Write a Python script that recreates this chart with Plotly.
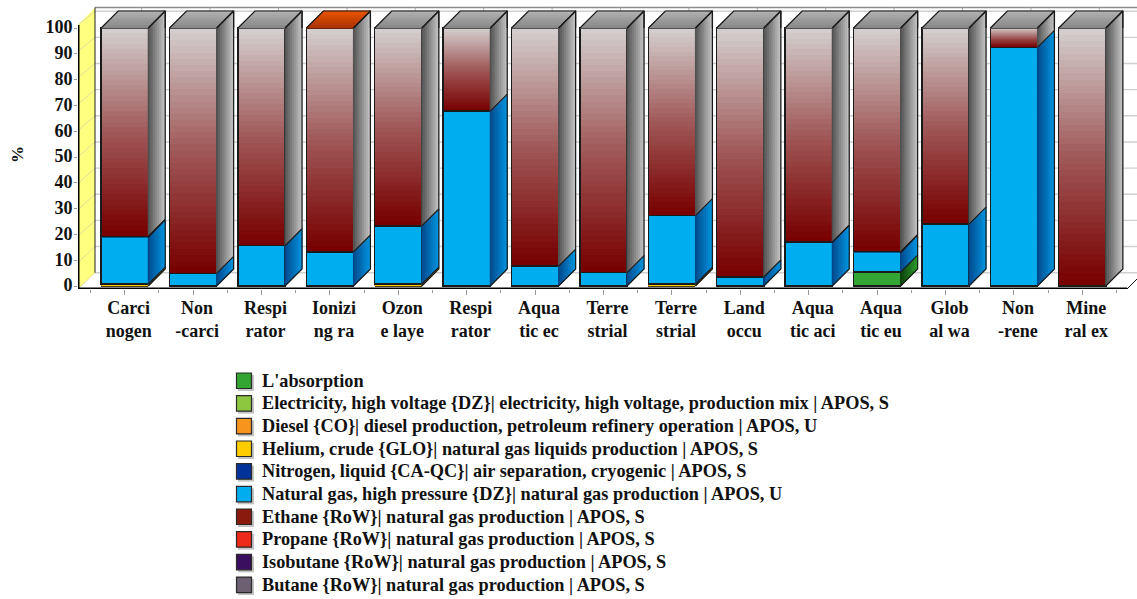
import plotly.graph_objects as go

# ---------- data ----------
categories = ["Carci<br>nogen", "Non<br>-carci", "Respi<br>rator", "Ionizi<br>ng ra", "Ozon<br>e laye",
              "Respi<br>rator", "Aqua<br>tic ec", "Terre<br>strial", "Terre<br>strial", "Land<br>occu",
              "Aqua<br>tic aci", "Aqua<br>tic eu", "Glob<br>al wa", "Non<br>-rene", "Mine<br>ral ex"]
y_ticks = [0, 10, 20, 30, 40, 50, 60, 70, 80, 90, 100]
series_names = ["L'absorption",
                "Electricity, high voltage {DZ}| electricity, high voltage, production mix | APOS, S",
                "Diesel {CO}| diesel production, petroleum refinery operation | APOS, U",
                "Helium, crude {GLO}| natural gas liquids production | APOS, S",
                "Nitrogen, liquid {CA-QC}| air separation, cryogenic | APOS, S",
                "Natural gas, high pressure {DZ}| natural gas production | APOS, U",
                "Ethane {RoW}| natural gas production | APOS, S",
                "Propane {RoW}| natural gas production | APOS, S",
                "Isobutane {RoW}| natural gas production | APOS, S",
                "Butane {RoW}| natural gas production | APOS, S"]
absorption  = [0, 0, 0, 0, 0, 0, 0, 0, 0, 0, 0, 5.4, 0, 0, 0]
electricity = [0] * 15
diesel      = [0] * 15
helium      = [0.7, 0, 0, 0, 0.7, 0, 0, 0, 0.7, 0, 0, 0, 0, 0, 0]
nitrogen    = [0.3, 0, 0, 0, 0, 0, 0, 0, 0, 0, 0.2, 0.4, 0, 0, 0]
natural_gas = [18.2, 4.9, 15.6, 13.2, 22.6, 67.8, 7.7, 5.2, 26.6, 3.5, 16.8, 7.5, 24.0, 92.5, 0]
ethane      = [80.78, 95.08, 84.38, 86.78, 76.68, 32.18, 92.28, 94.78, 72.68, 96.48, 82.98, 86.68, 75.98, 7.48, 99.98]
propane     = [0, 0, 0, 0.02, 0, 0, 0, 0, 0, 0, 0, 0, 0, 0, 0]
isobutane   = [0] * 15
butane      = [0.02, 0.02, 0.02, 0, 0.02, 0.02, 0.02, 0.02, 0.02, 0.02, 0.02, 0.02, 0.02, 0.02, 0.02]
series_values = [absorption, electricity, diesel, helium, nitrogen, natural_gas, ethane, propane, isobutane, butane]
series_colors = ["#33A532", "#8DC63F", "#F7941E", "#FFCC00", "#003399", "#00AEEF", "#8B1A0E", "#EE2A1A", "#3B0F5F", "#6D6070"]
stack_order = [0, 1, 2, 3, 5, 4, 6, 7, 8, 9]   # bottom to top in the picture

# ---------- styling ----------
FONT = "Liberation Serif"
INK = "#111111"
BAR_W = 0.688
DX = 17 / 68.4      # depth of the 3D effect in category units
DY = 17 / 2.58      # depth of the 3D effect in % units
X0, X1 = (78 - 124.7) / 68.4, (1137 - 124.7) / 68.4
Y0, Y1 = (286 - 289) / 2.58, (286 - 5) / 2.58
PLOT_W, PLOT_H = 1137 - 78, 289 - 5
xs = list(range(len(categories)))
side_ramps = [("#0B3F0B", "#2A9A2A"), ("#3A6010", "#8DC63F"), ("#7A4508", "#F7941E"), ("#7A6000", "#FFCC00"),
              ("#001A50", "#003399"), ("#00478A", "#0093DF"), ("#4E4E4E", "#C4C4C4"), ("#4E4E4E", "#C4C4C4"),
              ("#4E4E4E", "#C4C4C4"), ("#4E4E4E", "#C4C4C4")]
top_ramps = {9: ("#858585", "#B2B2B2"), 7: ("#A83200", "#E85400")}
GRADIENT = [[0, "#780000"], [0.5, "#A05858"], [1, "#D3CDCD"]]
bar_lines = {3: ("#806000", 0.5), 4: ("#005A90", 1.0)}


def mix(a, b, t):
    ca = [int(a[i:i + 2], 16) for i in (1, 3, 5)]
    cb = [int(b[i:i + 2], 16) for i in (1, 3, 5)]
    return "rgb(%d,%d,%d)" % tuple(round(p + (q - p) * t) for p, q in zip(ca, cb))


fig = go.Figure()

# gradient fill of the Ethane segments (heatmaps sit under the bar outlines)
cum = [0.0] * len(xs)
for vals in series_values[:6]:
    cum = [c + v for c, v in zip(cum, vals)]
eth_base = list(cum)
N = 40
for i in xs:
    lo, hi = eth_base[i], eth_base[i] + ethane[i]
    fig.add_trace(go.Heatmap(
        x=[i - BAR_W / 2, i + BAR_W / 2],
        y=[lo + (hi - lo) * k / N for k in range(N + 1)],
        z=[[k / (N - 1)] for k in range(N)],
        colorscale=GRADIENT, zmin=0, zmax=1, showscale=False, hoverinfo="skip"))

# stacked front faces
for idx in stack_order:
    lc, lw = bar_lines.get(idx, ("#1A1A1A", 1.4))
    fig.add_trace(go.Bar(
        x=xs, y=series_values[idx], name=series_names[idx], width=BAR_W, showlegend=False,
        marker=dict(color="rgba(0,0,0,0)" if idx == 6 else series_colors[idx],
                    line=dict(color=lc, width=lw))))

# side faces, as vertical colour strips
STRIPS = 9
outline_x, outline_y = [], []
base = [0.0] * len(xs)
side_polys = {}
for idx in stack_order:
    vals = series_values[idx]
    for i in xs:
        if vals[i] <= 0:
            continue
        y0, y1 = base[i], base[i] + vals[i]
        xr = i + BAR_W / 2
        for k in range(STRIPS):
            f0, f1 = k / STRIPS, (k + 1) / STRIPS
            xa, xb = xr + DX * f0, xr + DX * f1
            ya, yb = DY * f0, DY * f1
            px, py = side_polys.setdefault((idx, k), ([], []))
            px += [xa, xb, xb, xa, xa, None]
            py += [y0 + ya, y0 + yb, y1 + yb, y1 + ya, y0 + ya, None]
        outline_x += [xr, xr + DX, xr + DX, None]
        outline_y += [y0, y0 + DY, y1 + DY, None]
    base = [b + v for b, v in zip(base, vals)]
for (idx, k), (px, py) in side_polys.items():
    col = mix(*side_ramps[idx], (k + 0.5) / STRIPS)
    fig.add_trace(go.Scatter(x=px, y=py, mode="lines", fill="toself", fillcolor=col,
                             line=dict(width=1, color=col), hoverinfo="skip", showlegend=False))

# top faces, coloured after the uppermost series of each stack
top_polys = {}
for i in xs:
    top_series = max(s for s, vals in enumerate(series_values) if vals[i] > 0)
    xl, xr = i - BAR_W / 2, i + BAR_W / 2
    for k in range(STRIPS):
        f0, f1 = k / STRIPS, (k + 1) / STRIPS
        px, py = top_polys.setdefault((top_series, k), ([], []))
        px += [xl + DX * f0, xr + DX * f0, xr + DX * f1, xl + DX * f1, xl + DX * f0, None]
        py += [100 + DY * f0, 100 + DY * f0, 100 + DY * f1, 100 + DY * f1, 100 + DY * f0, None]
    outline_x += [xl, xl + DX, xr + DX, xr + DX, None, xr, xr + DX, None]
    outline_y += [100, 100 + DY, 100 + DY, 100, None, 100, 100 + DY, None]
for (s, k), (px, py) in top_polys.items():
    col = mix(*top_ramps[s], (k + 0.5) / STRIPS)
    fig.add_trace(go.Scatter(x=px, y=py, mode="lines", fill="toself", fillcolor=col,
                             line=dict(width=1, color=col), hoverinfo="skip", showlegend=False))
fig.add_trace(go.Scatter(x=outline_x, y=outline_y, mode="lines", line=dict(color="#1A1A1A", width=1.2),
                         hoverinfo="skip", showlegend=False))

# walls, floor and grid
wall_left = X0
wall_back = X0 + 17 / 68.4
shapes = []
back_y = lambda v: (286 - (272.7 - 2.615 * v)) / 2.58
front_y = lambda v: (286 - (289 - 2.64 * v)) / 2.58
top_back = (286 - 7.5) / 2.58
shapes.append(dict(type="path", layer="below", xref="x", yref="y",
                   path=f"M{wall_left},{front_y(0)} L{wall_back},{back_y(0)} L{wall_back},{top_back} L{wall_left},{front_y(100)} Z",
                   fillcolor="#FFFF80", line=dict(width=0)))
for v in y_ticks:
    shapes.append(dict(type="line", layer="below", xref="x", yref="y", x0=wall_back, x1=X1, y0=back_y(v), y1=back_y(v),
                       line=dict(color="#CFCFCF", width=1.4)))
    shapes.append(dict(type="line", layer="below", xref="x", yref="y", x0=wall_left, x1=wall_back, y0=front_y(v), y1=back_y(v),
                       line=dict(color="#DEDC9A", width=1)))
shapes.append(dict(type="line", layer="below", xref="x", yref="y", x0=wall_back, x1=X1, y0=top_back, y1=top_back,
                   line=dict(color="#8C8C8C", width=1.6)))
shapes.append(dict(type="line", layer="below", xref="x", yref="y", x0=wall_back, x1=wall_back, y0=back_y(0), y1=top_back,
                   line=dict(color="#222222", width=1)))
for i in xs:
    shapes.append(dict(type="line", layer="below", xref="x", yref="y", x0=i + DX, x1=i + DX, y0=top_back, y1=top_back - 1.2,
                       line=dict(color="#AAAAAA", width=1)))
x_floor_end = (1127 - 124.7) / 68.4
shapes.append(dict(type="line", layer="below", xref="x", yref="y", x0=x_floor_end, x1=X1, y0=Y0, y1=Y0 + 10 / 2.58,
                   line=dict(color="#111111", width=1)))
shapes.append(dict(type="line", layer="above", xref="x", yref="y", x0=X0, x1=x_floor_end, y0=Y0, y1=Y0,
                   line=dict(color="#000000", width=3)))
shapes.append(dict(type="line", layer="above", xref="x", yref="y", x0=X0, x1=X0, y0=Y0, y1=front_y(100),
                   line=dict(color="#000000", width=3)))

# legend, drawn in page pixels converted to paper coordinates
paper_x = lambda px: (px - 78) / PLOT_W
paper_y = lambda py: (289 - py) / PLOT_H
annotations = [dict(text="%", xref="paper", yref="paper", x=paper_x(17), y=paper_y(155), xanchor="center", yanchor="middle",
                    showarrow=False, textangle=-90, borderpad=0, font=dict(family=FONT, size=17, weight=700, color=INK))]
for k, (name, col) in enumerate(zip(series_names, series_colors)):
    cy = 381 + 22.67 * k
    shapes.append(dict(type="rect", xref="paper", yref="paper", layer="above",
                       x0=paper_x(238), x1=paper_x(254), y0=paper_y(cy - 6), y1=paper_y(cy + 10),
                       fillcolor="#C4C4C4", line=dict(width=0)))
    shapes.append(dict(type="rect", xref="paper", yref="paper", layer="above",
                       x0=paper_x(236.5), x1=paper_x(251.5), y0=paper_y(cy - 8), y1=paper_y(cy + 7.5),
                       fillcolor=col, line=dict(color="#2A2A2A", width=1.2)))
    annotations.append(dict(text=name, xref="paper", yref="paper", x=paper_x(261), y=paper_y(cy - 0.5),
                            xanchor="left", yanchor="middle", showarrow=False, align="left", borderpad=0,
                            font=dict(family=FONT, size=18.3, weight=700, color=INK)))

fig.update_layout(
    width=1137, height=599, autosize=False, barmode="stack", showlegend=False,
    margin=dict(l=78, r=0, t=5, b=310), paper_bgcolor="white", plot_bgcolor="white",
    shapes=shapes, annotations=annotations,
    font=dict(family=FONT, color=INK),
    xaxis=dict(range=[X0, X1], showgrid=False, zeroline=False, showline=False,
               tickmode="array", tickvals=xs, ticktext=categories, tickangle=0,
               ticks="outside", ticklen=5, tickcolor="#999999", tickwidth=1,
               tickfont=dict(family=FONT, size=18, weight=700, color=INK),
               ticklabelstandoff=-3, ticklabelshift=4,
               minor=dict(tickmode="array", tickvals=[i + d for i in xs for d in (-0.5, 0.5)],
                          ticks="outside", ticklen=3, tickcolor="#999999", showgrid=False)),
    yaxis=dict(range=[Y0, Y1], showgrid=False, zeroline=False, showline=False,
               tickmode="array", tickvals=y_ticks, ticktext=[str(v) for v in y_ticks],
               ticks="outside", ticklen=3, tickcolor="#999999",
               ticklabelshift=-1, ticklabelstandoff=-2,
               tickfont=dict(family=FONT, size=18, weight=700, color=INK)),
)
fig.write_html("out.html", config=dict(displayModeBar=False),
               post_script="document.body.style.margin='0';document.body.style.overflow='hidden';")
